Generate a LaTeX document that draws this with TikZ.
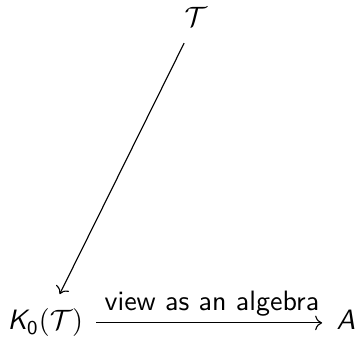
\documentclass[tikz,border=0pt]{standalone}
\usepackage{amsmath,amssymb}
\usetikzlibrary{arrows.meta,positioning}
\DeclareMathAlphabet{\mathsfit}{OT1}{cmss}{m}{sl}
\DeclareMathAlphabet{\mathsfup}{OT1}{cmss}{m}{n}

\begin{document}
\begin{tikzpicture}[
  obj/.style={inner sep=3.3pt,text height=7.5pt,text depth=2.5pt,font=\sffamily},
  arr/.style={->,thin,shorten >=2pt},
  lbl/.style={font=\sffamily,inner sep=2pt}
]
\useasboundingbox (0,0) rectangle (4.52,4.23);
\node[obj,anchor=base] (cat) at (2.46,3.90) {$\mathcal{T}$};
\node[obj,anchor=base west,inner xsep=0pt] (kzero) at (0.09,0.088) {$\mathsfit{K}_{\mathsfup{0}}\mathsfup{(}\mathcal{T}\mathsfup{)}$};
\node[obj,anchor=base west,inner xsep=0pt] (alg) at (4.22,0.088) {$\mathsfit{A}$};
\draw[arr] (cat) -- (kzero);
\draw[arr] ([xshift=4.5pt]kzero.east) -- node[lbl,above] {view as an algebra} ([xshift=-3pt]alg.west);
\end{tikzpicture}
\end{document}
